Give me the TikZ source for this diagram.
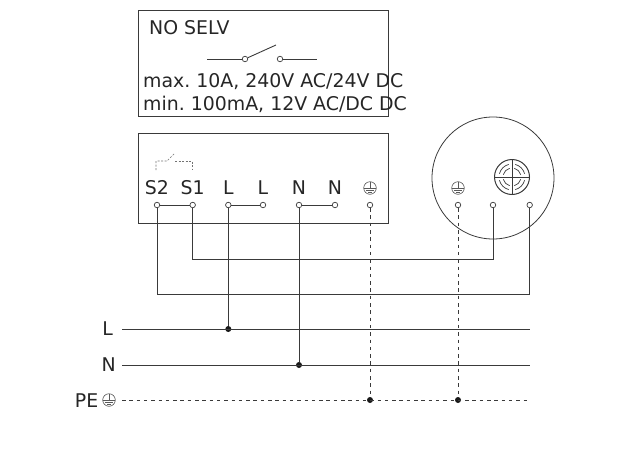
\documentclass[tikz,border=0pt]{standalone}
\usepackage{fontspec}
\setmainfont{DejaVu Sans}
\usetikzlibrary{positioning,calc}
\definecolor{wire}{HTML}{3A3A3A}
\tikzset{
    block/.style={rectangle, draw=wire, line width=0.8pt, inner sep=0pt},
    terminal/.style={circle, draw=wire, fill=white, line width=0.7pt, minimum size=5.5pt, inner sep=0pt},
    junction/.style={circle, fill=black!90, minimum size=6pt, inner sep=0pt},
    line/.style={draw=wire, line width=0.9pt},
    earthline/.style={draw=wire, line width=0.8pt, dash pattern=on 3.5pt off 3.8pt},
    relayline/.style={draw=black!55, line width=0.7pt, dash pattern=on 2pt off 1.5pt},
    label/.style={font=\fontsize{18.9}{18.9}\selectfont\frenchspacing, text=black!85, inner sep=0pt},
    earth/.pic={
        \draw[black!65, line width=0.6pt] (0,0) circle (6.3);
        \draw[black!65, line width=0.6pt] (0,-6) -- (0,0) (-6.3,0) -- (6.3,0) (-4,2.3) -- (4,2.3) (-2,4.3) -- (2,4.3);
    },
}
\begin{document}
\begin{tikzpicture}[x=1pt,y=-1pt]
        \useasboundingbox (0,0) rectangle (632,474);

        % relay data
        \node[block, minimum width=250pt, minimum height=106pt] (databox) at (263.3,63.3) {};
        \node[label, anchor=base west] (nosel) at (149,34) {NO SELV};
        \node[label, anchor=base west] (maxload) at (143,87.5) {max. 10A, 240V AC/24V DC};
        \node[label, anchor=base west] (minload) at (143,110) {min. 100mA, 12V AC/DC DC};
        \node[terminal] (contacta) at (245,59) {};
        \node[terminal] (contactb) at (280,59) {};
        \coordinate (leada) at (207,59);
        \coordinate (leadb) at (317,59);
        \coordinate (armend) at (276,45);
        \draw[line] (leada) -- (contacta);
        \draw[line] (contacta) -- (armend);
        \draw[line] (contactb) -- (leadb);

        % device
        \node[block, minimum width=250pt, minimum height=90pt] (devbox) at (263.3,178.4) {};
        \node[terminal] (s2) at (157,205) {};
        \node[terminal] (s1) at (192.7,205) {};
        \node[terminal] (la) at (228.3,205) {};
        \node[terminal] (lb) at (263,205) {};
        \node[terminal] (na) at (299,205) {};
        \node[terminal] (nb) at (335,205) {};
        \node[terminal] (pea) at (370,205) {};
        \node[label, above=7pt of s2] (s2text) {S2};
        \node[label, above=7pt of s1] (s1text) {S1};
        \node[label, above=7pt of la] (latext) {L};
        \node[label, above=7pt of lb] (lbtext) {L};
        \node[label, above=7pt of na] (natext) {N};
        \node[label, above=7pt of nb] (nbtext) {N};
        \pic at (370,188) {earth};
        \draw[line] (s2) -- (s1);
        \draw[line] (la) -- (lb);
        \draw[line] (na) -- (nb);

        % small switch
        \draw[relayline] (156,170) |- (167,161) -- (175,153);
        \draw[relayline] (175,161) -| (192,170);

        % sensor
        \node[circle, draw=wire, line width=0.8pt, minimum size=122pt, inner sep=0pt] (sensor) at (493,178) {};
        \node[circle, draw=wire, line width=1pt, minimum size=35pt, inner sep=0pt] (eye) at (512,177) {};
        \draw[line] (eye.north) -- (eye.south);
        \draw[line] (eye.west) -- (eye.east);
        \foreach \a in {0,90,180,270}{
            \foreach \r in {9,13}{
                \draw[wire, line width=0.7pt] ($(eye)+(\a+15:\r)$) arc[start angle=\a+15, end angle=\a+75, radius=\r];
            }
        }
        \pic at (458,188) {earth};
        \node[terminal] (pec) at (458,205) {};
        \node[terminal] (sa) at (493,205) {};
        \node[terminal] (sb) at (529.7,205) {};

        % mains
        \node[label, anchor=east] (ltext) at (113,329) {L};
        \node[label, anchor=east] (ntext) at (116,365) {N};
        \node[label, anchor=east] (petext) at (98.5,401) {PE};
        \pic at (109,400) {earth};
        \coordinate (lstart) at (122,329);
        \coordinate (lend) at (530,329);
        \coordinate (nstart) at (122,365);
        \coordinate (nend) at (530,365);
        \coordinate (pestart) at (122,400);
        \coordinate (peend) at (530,400);
        \node[junction] (ldot) at (228.3,329) {};
        \node[junction] (ndot) at (299,365) {};
        \node[junction] (pedota) at (370,400) {};
        \node[junction] (pedotb) at (458,400) {};
        \draw[line] (lstart) -- (lend);
        \draw[line] (nstart) -- (nend);
        \draw[earthline] (pestart) -- (peend);

        % connections
        \coordinate (srun) at (0,259.8);
        \coordinate (lrun) at (0,294.8);
        \draw[line] (s1) -- (s1 |- srun) -- (sa |- srun) -- (sa);
        \draw[line] (s2) -- (s2 |- lrun) -- (sb |- lrun) -- (sb);
        \draw[line] (la) -- (ldot);
        \draw[line] (na) -- (ndot);
        \draw[earthline] (pea) -- (pedota);
        \draw[earthline] (pec) -- (pedotb);

    \end{tikzpicture}
\end{document}
